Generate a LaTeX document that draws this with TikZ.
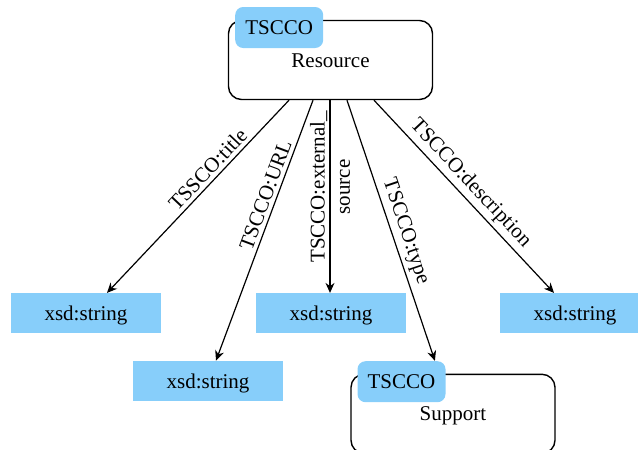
\documentclass[tikz,border=0pt]{standalone}
\usepackage{fontspec}
\setmainfont{Liberation Serif}
\usetikzlibrary{arrows.meta,calc}
\definecolor{tagblue}{RGB}{135,206,250}
\begin{document}
\begin{tikzpicture}[x=0.5pt,y=-0.5pt,
  every node/.style={font=\fontsize{10.5}{12.6}\selectfont, inner sep=0pt},
  boxtext/.style={text depth=0pt, text height=7pt},
  bigbox/.style={boxtext, draw, line width=0.7pt, rounded corners=6.5pt, minimum width=102pt, minimum height=39.5pt},
  tagbox/.style={boxtext, fill=tagblue, rounded corners=4pt, minimum width=44pt, minimum height=20.5pt},
  strbox/.style={boxtext, fill=tagblue, minimum width=75pt, minimum height=20pt},
  conn/.style={-{Stealth[length=5pt,width=4.5pt]}, line width=0.6pt},
  lbl/.style={sloped, above, inner sep=1.8pt}]
\clip (0,0) rectangle (638,450);
% resource
\node[bigbox] (R) at (330.5,60) {Resource};
\node[tagbox, anchor=north west] (tR) at ([xshift=3.5pt,yshift=6.6pt]R.north west) {TSCCO};
% support
\node[bigbox] (S) at (453,413.8) {Support};
\node[tagbox, anchor=north west] (tS) at ([xshift=3.4pt,yshift=6.4pt]S.north west) {TSCCO};
% string boxes
\node[strbox] (s1) at (86,313.3) {xsd:string};
\node[strbox] (s2) at (208,381) {xsd:string};
\node[strbox] (s3) at (331,313.3) {xsd:string};
\node[strbox] (s5) at (575,313.3) {xsd:string};
% connectors
\draw[conn] ([xshift=-20.75pt]R.south) -- node[lbl, pos=0.4] {TSSCO:title} ([xshift=10.5pt]s1.north);
\draw[conn] ([xshift=-8.75pt]R.south) -- node[lbl, pos=0.38] {TSCCO:URL} ([xshift=4pt]s2.north);
\draw[conn] ([xshift=-0.25pt]R.south) -- node[rotate=90, align=center, pos=0.45] {TSCCO:external\_\\source} ([xshift=-0.5pt]s3.north);
\draw[conn] ([xshift=8.25pt]R.south) -- node[lbl, pos=0.52] {TSCCO:type} ([xshift=16.7pt]tS.north);
\draw[conn] ([xshift=21.75pt]R.south) -- node[lbl, pos=0.48] {TSCCO:description} ([xshift=-10.5pt]s5.north);
\end{tikzpicture}
\end{document}
